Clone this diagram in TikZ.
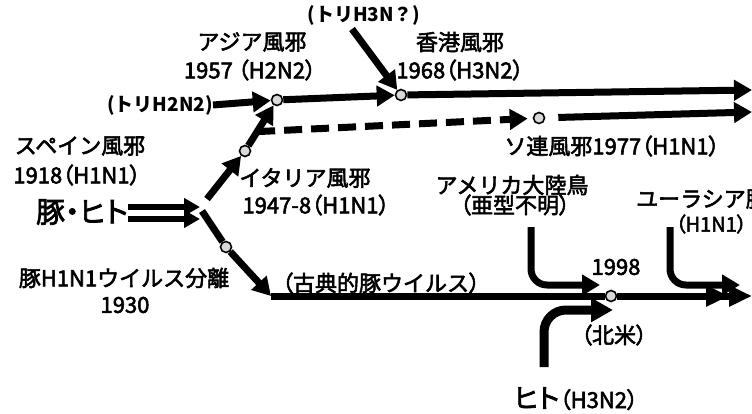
\documentclass[tikz,border=0pt]{standalone}
\usepackage{fontspec}
\setmainfont{Noto Sans CJK JP}[FakeBold=2.5, BoldFeatures={FakeBold=0}]
\newfontfamily\pfont{Noto Sans CJK JP}[RawFeature=+palt, FakeBold=2.5]
\newcommand\lp{{\pfont （}}
\newcommand\rp{{\pfont ）}}
\usetikzlibrary{arrows.meta,calc}
\begin{document}
\begin{tikzpicture}[x=1pt,y=-1pt,
  lbl/.style={inner sep=0pt, font=\fontsize{22}{25}\selectfont},
  slbl/.style={inner sep=0pt, font=\fontsize{20}{22}\selectfont},
  blbl/.style={inner sep=0pt, font=\bfseries\fontsize{19}{22}\selectfont},
  biglbl/.style={inner sep=0pt, font=\pfont\fontsize{29}{32}\selectfont},
  dot/.style={circle, draw, fill=black!15, line width=1.6pt, minimum size=11pt, inner sep=0pt},
  ln/.style={line width=7pt},
  arr/.style={line width=7pt, -{Triangle[length=18pt,width=20pt]}},
  arrtwo/.style={line width=6pt, -{Triangle[length=16pt,width=17pt]}},
  dblarr/.style={line width=7pt, -{Triangle[length=23pt,width=20pt] Triangle[length=23pt,width=20pt]}},
  thickarr/.style={line width=9pt, -{Triangle[length=22pt,width=23pt]}},
]
\useasboundingbox (0,0) rectangle (752,414);

% dots
\node[dot] (asia) at (277,100) {};
\node[dot] (hk) at (401,95) {};
\node[dot] (italy) at (245,151) {};
\node[dot] (soviet) at (539,118) {};
\node[dot] (swine) at (226,247) {};
\node[dot] (y1998) at (611,296) {};

% coordinates
\coordinate (forkU) at (207,199);
\coordinate (forkL) at (202,211);
\coordinate (lowstart) at (271,296);
\coordinate (hkend) at (752,90);
\coordinate (svend) at (752,112);
\coordinate (lowend) at (752,296);
\coordinate (dashstart) at ($(italy)!0.38!(asia)$);
\coordinate (pu) at (200,207);
\coordinate (pl) at (200,219);
\coordinate (amtop) at (531,227);
\coordinate (amend) at (600,285);
\coordinate (eutop) at (670,227);
\coordinate (euend) at (740,285);
\coordinate (htbot) at (544,367);
\coordinate (htend) at (613,310);
\coordinate (h3start) at (352,29);

% labels
\node[blbl] (th3n) at (364,15) {(トリH3N？)};
\node[blbl, anchor=east] (th2n2) at (213,105) {(トリH2N2)};
\node[lbl] (asiaT) at (252,42) {アジア風邪};
\node[lbl] (asiaY) at (250,70) {1957 \lp H2N2\rp};
\node[lbl] (hkT) at (460,42) {香港風邪};
\node[lbl] (hkY) at (460,70) {1968\lp H3N2\rp};
\node[lbl] (spT) at (80,146) {スペイン風邪};
\node[lbl] (spY) at (77,175) {1918\lp H1N1\rp};
\node[lbl] (itT) at (305,178) {イタリア風邪};
\node[lbl] (itY) at (316,205) {1947-8\lp H1N1\rp};
\node[lbl] (svT) at (612,146) {ソ連風邪1977\lp H1N1\rp};
\node[lbl] (amT) at (512,185) {アメリカ大陸鳥};
\node[lbl] (amY) at (515,205) {\lp 亜型不明\rp};
\node[lbl, anchor=west] (euT) at (636,199) {ユーラシア豚};
\node[slbl, anchor=east] (euY) at (747,224) {\lp H1N1\rp};
\node[lbl] (swT) at (124,278) {豚H1N1ウイルス分離};
\node[lbl] (swY) at (125,305) {1930};
\node[lbl] (clT) at (381,283) {\lp 古典的豚ウイルス\rp};
\node[lbl] (yT) at (616,267) {1998};
\node[lbl] (naT) at (614,335) {\lp 北米\rp};
\node[inner sep=0pt, anchor=base west, font=\pfont\fontsize{27}{28}\selectfont] (htA) at (514,408) {ヒト};
\node[inner sep=0pt, anchor=base west, font=\pfont\fontsize{22}{24}\selectfont] (htB) at (htA.base east) {（H3N2）};
\node[biglbl] (pig) at (82,212) {豚・ヒト};

% connectors
\draw[arrtwo] (pig.east |- pu) -- (pu);
\draw[arrtwo] (pig.east |- pl) -- (pl);
\draw[arr] (forkU) -- (italy);
\draw[arr] (italy) -- (asia);
\draw[arr] (th2n2.east) -- (asia);
\draw[arr] (asia) -- (hk);
\draw[arr] (h3start) -- (hk);
\draw[arr] (hk) -- (hkend);
\draw[arr, dash pattern=on 18pt off 9pt, shorten >=5pt] (dashstart) -- (soviet);
\draw[arr, shorten <=13pt] (soviet) -- (svend);
\draw[ln] (forkL) -- (swine);
\draw[arr] (swine) -- (lowstart);
\draw[ln] (lowstart) -- (y1998);
\draw[dblarr] (y1998) -- (lowend);
\draw[arr, rounded corners=16pt] (amtop) |- (amend);
\draw[arr, rounded corners=16pt] (eutop) |- (euend);
\draw[thickarr, rounded corners=22pt] (htbot) |- (htend);
\end{tikzpicture}
\end{document}
